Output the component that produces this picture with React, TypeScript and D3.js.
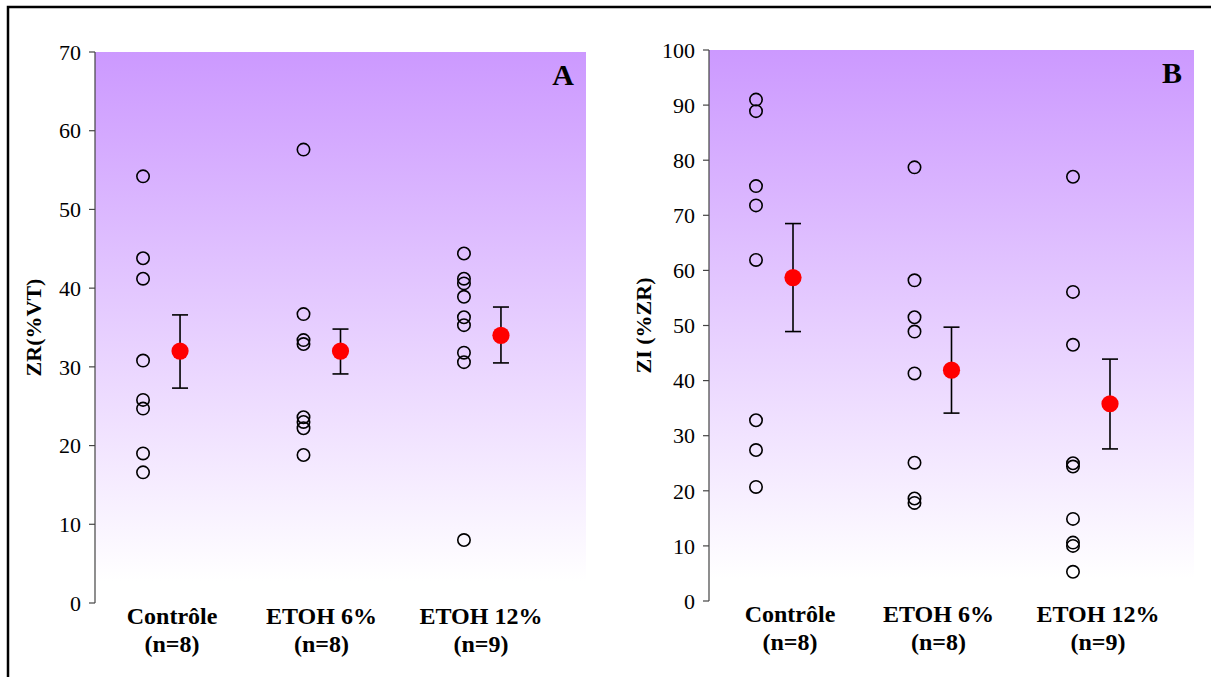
import React from "react";
import * as d3 from "d3";

const categories = ["Contrôle", "ETOH 6%", "ETOH 12%"];
const groupSizes = ["(n=8)", "(n=8)", "(n=9)"];

// Panel A: ZR (%VT)
const zrControle = [54.2, 43.8, 41.2, 30.8, 25.8, 24.7, 19.0, 16.6];
const zrEtoh6 = [57.6, 36.7, 33.4, 32.9, 23.6, 23.0, 22.2, 18.8];
const zrEtoh12 = [44.4, 41.2, 40.6, 38.9, 36.3, 35.3, 31.8, 30.6, 8.0];
const zrMeans = [32.0, 32.0, 34.0];
const zrErrHigh = [36.6, 34.8, 37.6];
const zrErrLow = [27.3, 29.1, 30.5];
const zrTicks = [0, 10, 20, 30, 40, 50, 60, 70];

// Panel B: ZI (%ZR)
const ziControle = [91.0, 88.9, 75.3, 71.8, 61.9, 32.8, 27.4, 20.7];
const ziEtoh6 = [78.7, 58.2, 51.5, 48.9, 41.3, 25.1, 18.6, 17.8];
const ziEtoh12 = [77.0, 56.1, 46.5, 25.0, 24.4, 14.9, 10.6, 10.0, 5.3];
const ziMeans = [58.7, 41.9, 35.8];
const ziErrHigh = [68.5, 49.7, 43.9];
const ziErrLow = [48.9, 34.1, 27.6];
const ziTicks = [0, 10, 20, 30, 40, 50, 60, 70, 80, 90, 100];

type PanelProps = {
  id: string;
  letter: string;
  yLabel: string;
  groups: number[][];
  means: number[];
  hi: number[];
  lo: number[];
  ticks: number[];
  left: number;
  right: number;
  top: number;
  bottom: number;
  yMax: number;
  yLabelX: number;
  labelShift: number[];
};

const FONT = '"Liberation Serif", "Times New Roman", Times, "DejaVu Serif", serif';

function Panel(p: PanelProps) {
  const y = d3.scaleLinear().domain([0, p.yMax]).range([p.bottom, p.top]);
  const x = d3.scalePoint<string>().domain(categories).range([p.left, p.right]).padding(0.53);
  const dotOffset = -37;
  const gradId = "grad-" + p.id;
  return (
    <g>
      <defs>
        <linearGradient id={gradId} x1="0" y1="0" x2="0" y2="1">
          <stop offset="0%" stopColor="#CC99FF" />
          <stop offset="96%" stopColor="#FFFFFF" />
          <stop offset="100%" stopColor="#FFFFFF" />
        </linearGradient>
      </defs>
      <rect x={p.left} y={p.top} width={p.right - p.left} height={p.bottom - p.top} fill={`url(#${gradId})`} />
      <line x1={p.left} x2={p.left} y1={p.top} y2={p.bottom} stroke="#444" strokeWidth={1.2} />
      {p.ticks.map((t) => (
        <g key={t}>
          <line x1={p.left - 6} x2={p.left} y1={y(t)} y2={y(t)} stroke="#444" strokeWidth={1.2} />
          <text x={p.left - 14} y={y(t)} dy="0.35em" textAnchor="end" style={{ fontFamily: FONT }} fontSize={22} fill="#000">
            {t}
          </text>
        </g>
      ))}
      <text
        transform={`translate(${p.yLabelX},${(p.top + p.bottom) / 2}) rotate(-90)`}
        textAnchor="middle"
        style={{ fontFamily: FONT }}
        fontSize={22}
        fontWeight="bold"
        dy="0.35em"
      >
        {p.yLabel}
      </text>
      <text x={p.right - 12} y={p.top + 33} textAnchor="end" style={{ fontFamily: FONT }} fontSize={30} fontWeight="bold">
        {p.letter}
      </text>
      {categories.map((c, i) => {
        const cx = x(c)!;
        const lx = cx + p.labelShift[i];
        return (
          <g key={c}>
            {p.groups[i].map((v, j) => (
              <circle key={j} cx={cx + dotOffset} cy={y(v)} r={6.2} fill="none" stroke="#000" strokeWidth={1.6} />
            ))}
            <line x1={cx} x2={cx} y1={y(p.hi[i])} y2={y(p.lo[i])} stroke="#000" strokeWidth={1.6} />
            <line x1={cx - 8} x2={cx + 8} y1={y(p.hi[i])} y2={y(p.hi[i])} stroke="#000" strokeWidth={1.6} />
            <line x1={cx - 8} x2={cx + 8} y1={y(p.lo[i])} y2={y(p.lo[i])} stroke="#000" strokeWidth={1.6} />
            <circle cx={cx} cy={y(p.means[i])} r={8.6} fill="#FF0000" />
            <text x={lx} y={p.bottom + 21} textAnchor="middle" style={{ fontFamily: FONT }} fontSize={24} fontWeight="bold">
              {c}
            </text>
            <text x={lx} y={p.bottom + 49} textAnchor="middle" style={{ fontFamily: FONT }} fontSize={24} fontWeight="bold">
              {groupSizes[i]}
            </text>
          </g>
        );
      })}
    </g>
  );
}

export default function App() {
  return (
    <svg
      width={1211}
      height={677}
      style={{ position: "absolute", left: 0, top: 0, background: "#fff" }}
      xmlns="http://www.w3.org/2000/svg"
    >
      <rect x={0} y={0} width={1211} height={677} fill="#fff" />
      <rect x={8} y={7} width={1260} height={720} fill="none" stroke="#000" strokeWidth={2.5} />
      <Panel
        id="a"
        letter="A"
        yLabel="ZR(%VT)"
        groups={[zrControle, zrEtoh6, zrEtoh12]}
        means={zrMeans}
        hi={zrErrHigh}
        lo={zrErrLow}
        ticks={zrTicks}
        left={95}
        right={586}
        top={52}
        bottom={603}
        yMax={70}
        yLabelX={33}
        labelShift={[-8, -19, -20]}
      />
      <Panel
        id="b"
        letter="B"
        yLabel="ZI (%ZR)"
        groups={[ziControle, ziEtoh6, ziEtoh12]}
        means={ziMeans}
        hi={ziErrHigh}
        lo={ziErrLow}
        ticks={ziTicks}
        left={709}
        right={1194}
        top={50}
        bottom={601}
        yMax={100}
        yLabelX={643}
        labelShift={[-3, -13, -12]}
      />
    </svg>
  );
}
